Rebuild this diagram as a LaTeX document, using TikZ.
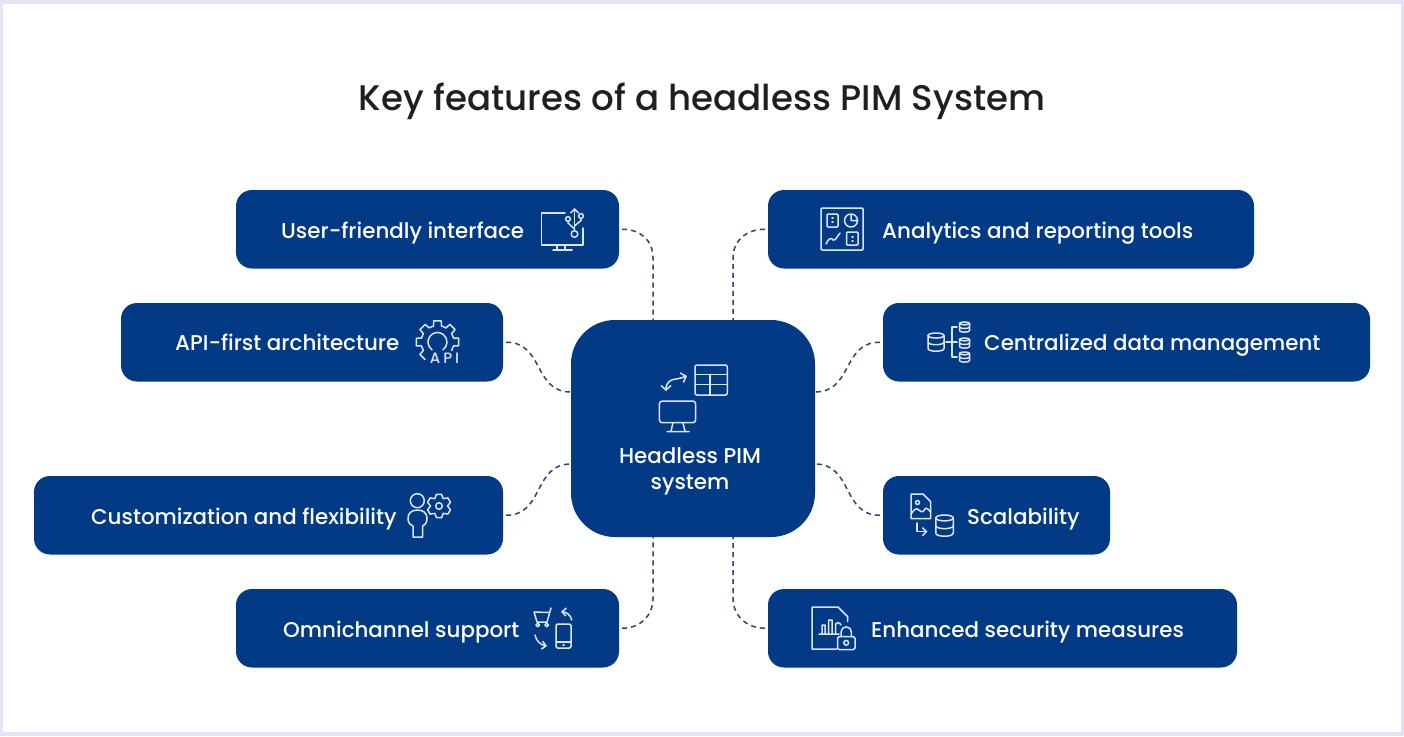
\documentclass[tikz,border=0pt]{standalone}
\usepackage{fontspec}
\setmainfont{Poppins Medium}
\usetikzlibrary{arrows.meta,calc}
\definecolor{navy}{HTML}{033A85}
\definecolor{lav}{HTML}{E4E4F4}
\definecolor{ico}{HTML}{DCE6F5}
\definecolor{dash}{HTML}{2F4468}
\tikzset{
  panel/.style={draw=none,fill=navy,rounded corners=16pt,inner sep=0pt},
  label/.style={text=white,font=\fontsize{21.4}{26}\selectfont,anchor=base west,inner sep=0pt},
  conn/.style={draw=dash,line width=1.5pt,dash pattern=on 5pt off 4pt},
  icon/.style={draw=ico,line width=1.5pt,line cap=round,line join=round,fill=none},
  tip/.style={-{Straight Barb[length=4pt,width=8pt]}},
  tips/.style={{Straight Barb[length=4.5pt,width=10pt]}-{Straight Barb[length=4.5pt,width=10pt]}}
}
\newcommand{\boxat}[5]{\node[panel,minimum width=#4pt-#2pt,minimum height=#5pt-#3pt] (#1) at ({(#2+#4)/2},{(#3+#5)/2}) {};}
\newcommand{\dbcyl}[4]{%
 \begin{scope}[shift={(#1,#2)},xscale=#3,yscale=#4]
  \draw[icon] (0,-.36) ellipse (.5 and .14);
  \draw[icon] (-.5,-.36) -- (-.5,.36) .. controls (-.5,.56) and (.5,.56) .. (.5,.36) -- (.5,-.36);
  \draw[icon] (-.5,0) .. controls (-.5,.2) and (.5,.2) .. (.5,0);
 \end{scope}}
\begin{document}
\begin{tikzpicture}[x=1pt,y=-1pt]
\useasboundingbox (0,0) rectangle (1404,736);
\fill[lav] (0,0) rectangle (1404,736);
\fill[white] (3,4) rectangle (1401,732);
\node[text=black!88,font=\fontsize{35.6}{44}\selectfont,inner sep=0pt] (title) at (702,101) {Key features of a headless PIM System};
\boxat{u}{236}{190}{619}{268.5}
\boxat{an}{768}{190}{1254}{268.5}
\boxat{api}{121}{303}{503}{381.5}
\boxat{cdm}{883}{303}{1370}{381.5}
\boxat{cust}{34}{476}{503}{554.5}
\boxat{sc}{883}{476}{1110}{554.5}
\boxat{om}{236}{589}{619}{667.5}
\boxat{sec}{768}{589}{1237}{667.5}
\node[panel,rounded corners=44pt,minimum width=244pt,minimum height=217pt] (hub) at (693,428.5) {};
\node[label,anchor=center,align=center,font=\fontsize{21.4}{26}\selectfont] (hubt) at (690,471) {Headless PIM\\system};
\node[label] (tu) at (281,238) {User-friendly interface};
\node[label] (tan) at (882,238) {Analytics and reporting tools};
\node[label] (tapi) at (175,350) {API-first architecture};
\node[label] (tcdm) at (984,350) {Centralized data management};
\node[label] (tcust) at (91,524) {Customization and flexibility};
\node[label] (tsc) at (967,524) {Scalability};
\node[label] (tom) at (283,637) {Omnichannel support};
\node[label] (tsec) at (871,637) {Enhanced security measures};
% connectors
\coordinate (ht1) at (653,320); \coordinate (ht2) at (733,320);
\coordinate (hb1) at (653,537); \coordinate (hb2) at (733,537);
\coordinate (hl1) at (571,392); \coordinate (hl2) at (571,464);
\coordinate (hr1) at (815,392); \coordinate (hr2) at (815,464);
\coordinate (ct1) at (653,258); \coordinate (ct2) at (733,258);
\coordinate (cb1) at (653,598); \coordinate (cb2) at (733,598);
\draw[conn] ([xshift=3pt]u.east) .. controls +(18,0) and +(0,-18) .. (ct1) -- (ht1);
\draw[conn] ([xshift=-3pt]an.west) .. controls +(-18,0) and +(0,-18) .. (ct2) -- (ht2);
\draw[conn] ([xshift=3pt]om.east) .. controls +(18,0) and +(0,18) .. (cb1) -- (hb1);
\draw[conn] ([xshift=-3pt]sec.west) .. controls +(-18,0) and +(0,18) .. (cb2) -- (hb2);
\draw[conn] ([xshift=3pt]api.east) .. controls +(38,0) and +(-38,0) .. (hl1);
\draw[conn] ([xshift=3pt]cust.east) .. controls +(38,0) and +(-38,0) .. (hl2);
\draw[conn] ([xshift=-3pt]cdm.west) .. controls +(-38,0) and +(38,0) .. (hr1);
\draw[conn] ([xshift=-3pt]sc.west) .. controls +(-38,0) and +(38,0) .. (hr2);
% icon: monitor + usb
\draw[icon] (565,213) -- (541.5,213) -- (541.5,245) -- (583,245) -- (583,228);
\draw[icon] (557,245) -- (557,250) (565,245) -- (565,250) (553,250) -- (572,250);
\draw[icon,tip] (574.5,230.5) -- (574.5,208);
\draw[icon] (574.5,234) circle (3.3);
\draw[icon] (568,219) circle (2.4) (568,221.4) -- (568,223) -- (574.5,229);
\draw[icon] (581,216) circle (2.4) (581,218.4) -- (581,220.5) -- (574.5,226);
% icon: analytics
\draw[icon,rounded corners=1pt] (821,208) rectangle (863,250);
\draw[icon,rounded corners=1pt] (827,214) rectangle (838,227);
\draw[icon,rounded corners=1pt] (846.5,232) rectangle (858,245);
\draw[icon] (851,220.5) circle (6.5) (851,214) -- (851,220.5) -- (857.5,220.5);
\draw[icon] (826,244) .. controls (829,238) and (831,237) .. (833,240) .. controls (835,241) and (837,237) .. (840,233);
\draw[icon] (832,218) -- (833,218) (852,237) -- (853,237) (852,241) -- (853,241) (832,222) -- (833,222);
% icon: API gear
\foreach \k in {0,...,5}{
  \pgfmathsetmacro{\aa}{-225+\k*45}
  \draw[icon] ($(437.5,342)+(\aa-10:21.5)$) -- ($(437.5,342)+(\aa+10:21.5)$)
    -- ($(437.5,342)+(\aa+14:16.5)$) -- ($(437.5,342)+(\aa+31:16.5)$);
}
\foreach \k in {0,...,4}{
  \pgfmathsetmacro{\aa}{-225+\k*45}
  \draw[icon] ($(437.5,342)+(\aa+31:16.5)$) -- ($(437.5,342)+(\aa+35:21.5)$);
}
\draw[icon] ($(437.5,342)+(125:9.5)$) arc[start angle=125,end angle=415,radius=9.5];
\node[text=ico,font=\fontsize{15}{16}\selectfont,inner sep=0pt,anchor=base] (apilab) at (444.5,363) {A\kern3pt P\kern3pt I};
% icon: data management
\dbcyl{936}{342}{16}{18}
\dbcyl{964.5}{327}{10}{10}
\dbcyl{964.5}{343}{10}{10}
\dbcyl{964.5}{357}{10}{10}
\draw[icon] (957,327) -- (952,327) -- (952,357) -- (957,357) (946,342) -- (957,342);
% icon: customization
\draw[icon] (417.3,500.7) circle (7);
\draw[icon] (413,537) -- (413,526) .. controls (408,524) and (408,520) .. (408,518) .. controls (408,513) and (412,510) .. (417.5,510) .. controls (423,510) and (427,513) .. (427,518) .. controls (427,520) and (427,524) .. (422.5,526) -- (422.5,537) -- cycle;
\draw[icon] (439,506) circle (3.3);
\foreach \k in {0,...,5}{
  \pgfmathsetmacro{\aa}{30+\k*60}
  \draw[icon] ($(439,506)+(\aa-12:12)$) -- ($(439,506)+(\aa+12:12)$)
    -- ($(439,506)+(\aa+30:8.5)$) -- ($(439,506)+(\aa+48:12)$);
}
% icon: omnichannel
\draw[icon] (551,608) -- (547,622) -- (537,622) -- (534,612) -- (549.5,612.5);
\draw[icon] (537.7,625) circle (1.8) (546.7,625) circle (1.8);
\draw[icon,rounded corners=1.5pt] (556,624) rectangle (571,648);
\draw[icon] (556,642) -- (571,642) (563,645) -- (564,645);
\draw[icon,tip] (571.7,620) .. controls (571,615) and (566,612) .. (561,611.7);
\draw[icon,tip] (535,635) .. controls (536,641) and (541,645) .. (547,646);
% icon: security
\draw[icon] (836.5,649) -- (812,649) -- (812,607) -- (838,607) -- (847.7,616.7) -- (847.7,621.5);
\draw[icon] (819,634) -- (839,634) (822,634) -- (822,625) -- (825,625) -- (825,634) (828.5,634) -- (828.5,620) -- (832,620) -- (832,634) (835.5,634) -- (835.5,625) .. controls (835.5,622) and (840,622) .. (841,625);
\draw[icon,rounded corners=1.5pt] (837.5,636.7) rectangle (855,649.5);
\draw[icon] (841,636.7) -- (841,632) arc[start angle=180,end angle=360,radius=5.2] -- (851.4,636.7);
\draw[icon] (846.2,642.8) circle (2.4);
% icon: scalability
\draw[icon] (923,494) -- (911,494) -- (911,518.5) -- (930.7,518.5) -- (930.7,501.7) -- (923,494);
\draw[icon] (917.5,502.5) circle (2);
\draw[icon] (911,514) .. controls (914,510) and (916,507) .. (919,510) .. controls (922,513) and (923,512) .. (925,509) .. controls (926,507) and (928,509) .. (930.7,512);
\draw[icon,tip] (917,523) -- (917,531.7) -- (927.5,531.7);
\dbcyl{944.5}{525.5}{17.5}{21}
% icon: hub
\draw[icon,rounded corners=2pt] (695,365) rectangle (727.3,395);
\draw[icon] (695,374.3) -- (727.3,374.3) (695,384.3) -- (727.3,384.3) (710,374.3) -- (710,395);
\draw[icon,tips] (666,391) .. controls (666,381) and (672,379.5) .. (676,379) .. controls (680,378.5) and (684,377) .. (687,376);
\draw[icon,rounded corners=3pt] (659.3,401) rectangle (695.7,422.7);
\draw[icon] (673,423) -- (671,431) (683,423) -- (685,431) (667,431.5) -- (689,431.5);
\end{tikzpicture}
\end{document}
